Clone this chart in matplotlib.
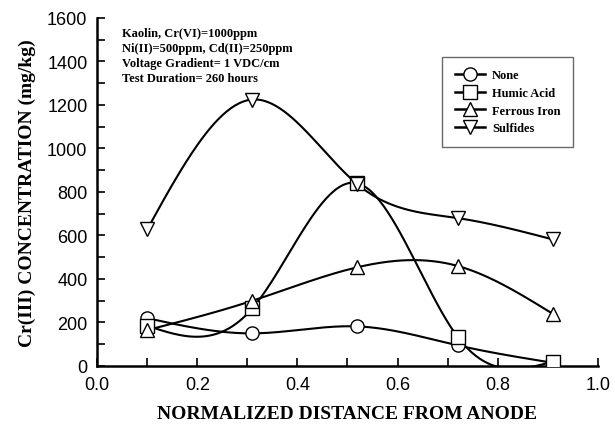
import numpy as np
import matplotlib
matplotlib.use('Agg')
import matplotlib.pyplot as plt
from matplotlib.ticker import MultipleLocator

distance = [0.10, 0.31, 0.52, 0.72, 0.91]
none_vals = [220, 150, 182, 95, 15]
humic_vals = [185, 265, 840, 134, 20]
ferrous_vals = [165, 300, 454, 460, 240]
sulfide_vals = [628, 1225, 835, 680, 582]

labels = ['None', 'Humic Acid', 'Ferrous Iron', 'Sulfides']
markers = ['o', 's', '^', 'v']
note_lines = ['Kaolin, Cr(VI)=1000ppm',
              'Ni(II)=500ppm, Cd(II)=250ppm',
              'Voltage Gradient= 1 VDC/cm',
              'Test Duration= 260 hours']


def natural_spline(x, y, n=200):
    # natural cubic spline, only used to draw the smooth connecting curve
    x = np.asarray(x, float)
    y = np.asarray(y, float)
    k = len(x)
    h = np.diff(x)
    A = np.zeros((k, k))
    b = np.zeros(k)
    A[0, 0] = A[-1, -1] = 1
    for i in range(1, k - 1):
        A[i, i - 1] = h[i - 1]
        A[i, i] = 2 * (h[i - 1] + h[i])
        A[i, i + 1] = h[i]
        b[i] = 6 * ((y[i + 1] - y[i]) / h[i] - (y[i] - y[i - 1]) / h[i - 1])
    M = np.linalg.solve(A, b)
    xs = np.linspace(x[0], x[-1], n)
    idx = np.clip(np.searchsorted(x, xs) - 1, 0, k - 2)
    x0, x1 = x[idx], x[idx + 1]
    hh = x1 - x0
    ys = (M[idx] * (x1 - xs) ** 3 / (6 * hh) + M[idx + 1] * (xs - x0) ** 3 / (6 * hh)
          + (y[idx] / hh - M[idx] * hh / 6) * (x1 - xs)
          + (y[idx + 1] / hh - M[idx + 1] * hh / 6) * (xs - x0))
    return xs, ys


fig = plt.figure(figsize=(6.15, 4.31), dpi=100)
ax = fig.add_axes([0.158, 0.1485, 0.814, 0.8075])

series = [none_vals, humic_vals, ferrous_vals, sulfide_vals]
for vals, lab, mk in zip(series, labels, markers):
    xs, ys = natural_spline(distance, vals)
    ax.plot(xs, ys, color='k', lw=1.5, zorder=2)
    ax.plot(distance, vals, linestyle='none', marker=mk, markersize=9.5,
            markerfacecolor='white', markeredgecolor='k', markeredgewidth=1.0, zorder=3)
    # legend proxy
    ax.plot([], [], color='k', lw=1.8, marker=mk, markersize=9.5,
            markerfacecolor='white', markeredgecolor='k', markeredgewidth=1.0, label=lab)

ax.set_xlim(0, 1.0)
ax.set_ylim(0, 1600)
ax.xaxis.set_major_locator(MultipleLocator(0.2))
ax.xaxis.set_minor_locator(MultipleLocator(0.1))
ax.yaxis.set_major_locator(MultipleLocator(200))
ax.yaxis.set_minor_locator(MultipleLocator(100))
ax.xaxis.set_major_formatter(matplotlib.ticker.FormatStrFormatter('%.1f'))

ax.spines['top'].set_visible(False)
ax.spines['right'].set_visible(False)
ax.spines['left'].set_linewidth(1.8)
ax.spines['bottom'].set_linewidth(1.8)
ax.tick_params(which='both', direction='in', width=1.2, labelsize=13, pad=7)
ax.tick_params(which='major', length=6)
ax.tick_params(which='minor', length=6)
for t in ax.get_xticklabels() + ax.get_yticklabels():
    t.set_family('Liberation Sans')

serif_bold = dict(family='Liberation Serif', weight='bold')
ax.set_xlabel('NORMALIZED DISTANCE FROM ANODE', fontsize=14, labelpad=9, **serif_bold)
ax.set_ylabel('Cr(III) CONCENTRATION (mg/kg)', fontsize=14, labelpad=8, **serif_bold)

ax.text(0.05, 0.975, '\n'.join(note_lines), transform=ax.transAxes, va='top', ha='left',
        fontsize=9, linespacing=1.35, **serif_bold)

leg = ax.legend(loc='upper left', bbox_to_anchor=(0.689, 0.888), borderaxespad=0,
                frameon=True, fancybox=False,
                prop={'family': 'Liberation Serif', 'weight': 'bold', 'size': 9},
                handlelength=2.4, borderpad=1.0, labelspacing=0.45, handletextpad=0.6)
leg.get_frame().set_edgecolor('#444444')
leg.get_frame().set_linewidth(1.0)

fig.savefig('out.png', dpi=100)
